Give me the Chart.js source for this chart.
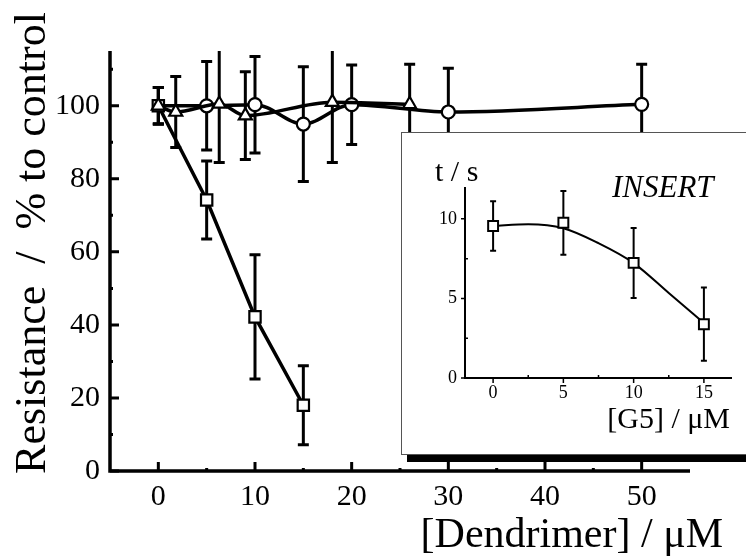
<!DOCTYPE html>
<html>
<head>
<meta charset="utf-8">
<script src="https://cdn.jsdelivr.net/npm/chart.js@4/dist/chart.umd.min.js"></script>
<style>
html, body { margin: 0; padding: 0; background: #fff; overflow: hidden; }
#wrap { position: relative; width: 746px; height: 557px; }
#mainChart { position: absolute; left: 0; top: 0; }
#insetBox {
    position: absolute; left: 401px; top: 132px; width: 360px; height: 323px;
    box-sizing: border-box; border: 1px solid #555; background: #fff;
    box-shadow: 6px 7px 0 #000;
}
#insetChart { position: absolute; left: 402px; top: 133px; }
</style>
</head>
<body>
<div id="wrap">
    <canvas id="mainChart" width="746" height="557"></canvas>
    <div id="insetBox"></div>
    <canvas id="insetChart" width="344" height="321"></canvas>
</div>
<script>
// main plot: resistance vs dendrimer concentration
var squareX = [0, 5, 10, 15];
var squareY = [100, 74.2, 42.2, 18];
var squareErr = [5, 10.7, 17, 10.8];

var circleX = [0, 5, 10, 15, 20, 30, 50];
var circleY = [100, 100, 100.3, 95, 100.3, 98.3, 100.4];
var circleErr = [5, 12.1, 13.2, 15.7, 10.9, 12, 11];

var triangleX = [0, 1.8, 6.3, 9, 18, 26];
var triangleY = [100, 98.3, 100.5, 97.3, 101, 100.4];
var triangleErr = [5, 9.7, 16, 12, 16.5, 11];

var mainXTicks = [0, 10, 20, 30, 40, 50];
var mainYTicks = [0, 20, 40, 60, 80, 100];

// insert: t / s vs [G5]
var g5X = [0, 5, 10, 15];
var g5Y = [9.55, 9.75, 7.23, 3.38];
var g5Err = [1.55, 2.0, 2.2, 2.3];

// fitted curve
var fitX = [0, 2.5, 5, 7.5, 10, 12.5, 15];
var fitY = [9.56, 9.66, 9.41, 8.47, 7.22, 5.34, 3.45];

var insetXTicks = [0, 5, 10, 15];
var insetYTicks = [0, 5, 10];

var serif = "'Liberation Serif', 'Times New Roman', serif";

function pts(xs, ys) {
    return xs.map(function (x, i) { return { x: x, y: ys[i] }; });
}

var errorBars = {
    id: 'errorBars',
    beforeDatasetsDraw: function (chart, args, opts) {
        var ctx = chart.ctx, a = chart.chartArea;
        var xs = chart.scales.x, ys = chart.scales.y;
        ctx.save();
        ctx.beginPath();
        ctx.rect(a.left, a.top, a.right - a.left, a.bottom - a.top);
        ctx.clip();
        ctx.strokeStyle = '#000';
        ctx.lineWidth = opts.width;
        chart.data.datasets.forEach(function (ds) {
            if (!ds.err) return;
            ds.data.forEach(function (p, j) {
                var e = ds.err[j];
                if (!e) return;
                var px = xs.getPixelForValue(p.x);
                var t = ys.getPixelForValue(p.y + e);
                var b = ys.getPixelForValue(p.y - e);
                ctx.beginPath();
                ctx.moveTo(px, t); ctx.lineTo(px, b);
                ctx.moveTo(px - opts.cap, t); ctx.lineTo(px + opts.cap, t);
                ctx.moveTo(px - opts.cap, b); ctx.lineTo(px + opts.cap, b);
                ctx.stroke();
            });
        });
        ctx.restore();
    }
};

// axis lines, tick marks, tick labels and titles
var axes = {
    id: 'axes',
    afterDraw: function (chart, args, o) {
        var ctx = chart.ctx, a = chart.chartArea;
        var xs = chart.scales.x, ys = chart.scales.y;
        ctx.save();
        ctx.strokeStyle = '#000';
        ctx.lineWidth = o.width;
        ctx.beginPath();
        ctx.moveTo(a.left, a.top);
        ctx.lineTo(a.left, a.bottom);
        ctx.lineTo(a.right, a.bottom);
        ctx.stroke();
        ctx.lineWidth = o.tickWidth;
        ctx.beginPath();
        o.xMajor.forEach(function (v) {
            var px = xs.getPixelForValue(v);
            ctx.moveTo(px, a.bottom); ctx.lineTo(px, a.bottom + o.xMajorLen);
        });
        o.xMinor.forEach(function (v) {
            var px = xs.getPixelForValue(v);
            ctx.moveTo(px, a.bottom); ctx.lineTo(px, a.bottom + o.xMinorLen);
        });
        o.yMajor.forEach(function (v) {
            var py = ys.getPixelForValue(v);
            ctx.moveTo(a.left, py); ctx.lineTo(a.left + o.yMajorLen, py);
        });
        o.yMinor.forEach(function (v) {
            var py = ys.getPixelForValue(v);
            ctx.moveTo(a.left, py); ctx.lineTo(a.left + o.yMinorLen, py);
        });
        ctx.stroke();

        ctx.fillStyle = '#000';
        ctx.font = o.labelFont;
        ctx.textAlign = 'center';
        ctx.textBaseline = 'alphabetic';
        o.xMajor.forEach(function (v) {
            ctx.fillText(String(v), xs.getPixelForValue(v), a.bottom + o.xLabelOffset);
        });
        ctx.textAlign = 'right';
        ctx.textBaseline = 'middle';
        o.yMajor.forEach(function (v) {
            ctx.fillText(String(v), a.left - o.yLabelGap, ys.getPixelForValue(v));
        });

        o.texts.forEach(function (t) {
            ctx.save();
            ctx.font = t.font;
            ctx.textAlign = t.align;
            ctx.textBaseline = 'alphabetic';
            ctx.translate(t.x, t.y);
            if (t.rot) ctx.rotate(t.rot);
            ctx.fillText(t.text, 0, 0);
            ctx.restore();
        });
        ctx.restore();
    }
};

var hiddenScale = {
    grid: { display: false, drawTicks: false },
    border: { display: false },
    ticks: { display: false }
};

var mainChart = new Chart(document.getElementById('mainChart').getContext('2d'), {
    type: 'line',
    data: {
        datasets: [
            {
                label: 'triangles',
                data: pts(triangleX, triangleY),
                err: triangleErr,
                borderColor: '#000',
                borderWidth: 3.5,
                cubicInterpolationMode: 'monotone',
                pointStyle: 'triangle',
                pointRadius: 7.5,
                pointBorderWidth: 2.2,
                pointBackgroundColor: '#fff',
                pointBorderColor: '#000'
            },
            {
                label: 'circles',
                data: pts(circleX, circleY),
                err: circleErr,
                borderColor: '#000',
                borderWidth: 3.5,
                cubicInterpolationMode: 'monotone',
                pointStyle: 'circle',
                pointRadius: [0, 6.5, 6.5, 6.5, 6.5, 6.5, 6.5],
                pointBorderWidth: 2.2,
                pointBackgroundColor: '#fff',
                pointBorderColor: '#000'
            },
            {
                label: 'squares',
                data: pts(squareX, squareY),
                err: squareErr,
                borderColor: '#000',
                borderWidth: 3.5,
                tension: 0,
                pointStyle: 'rect',
                pointRadius: 8,
                pointBorderWidth: 2.2,
                pointBackgroundColor: '#fff',
                pointBorderColor: '#000'
            }
        ]
    },
    options: {
        responsive: false,
        animation: false,
        layout: { padding: { left: 110, right: 56, top: 51, bottom: 86 } },
        scales: {
            x: Object.assign({ type: 'linear', min: -5, max: 55,
                afterFit: function (s) { s.height = 0; } }, hiddenScale),
            y: Object.assign({ type: 'linear', min: 0, max: 115,
                afterFit: function (s) { s.width = 0; } }, hiddenScale)
        },
        plugins: {
            legend: { display: false },
            tooltip: { enabled: false },
            errorBars: { width: 3, cap: 5.5 },
            axes: {
                width: 3.5, tickWidth: 3,
                xMajor: mainXTicks, xMinor: [5, 15, 25, 35, 45],
                xMajorLen: -9, xMinorLen: -3,
                yMajor: mainYTicks, yMinor: [10, 30, 50, 70, 90, 110],
                yMajorLen: 9, yMinorLen: 3,
                labelFont: '30px ' + serif,
                xLabelOffset: 34, yLabelGap: 10,
                texts: [
                    { text: 'Resistance  /  % to control', x: 45, y: 243, rot: -Math.PI / 2,
                      align: 'center', font: '44px ' + serif },
                    { text: '[Dendrimer] / \u03BCM', x: 723, y: 547, align: 'right', font: '42px ' + serif }
                ]
            }
        }
    },
    plugins: [errorBars, axes]
});

var insetChart = new Chart(document.getElementById('insetChart').getContext('2d'), {
    type: 'line',
    data: {
        datasets: [
            {
                label: 'G5',
                data: pts(g5X, g5Y),
                err: g5Err,
                showLine: false,
                pointStyle: 'rect',
                pointRadius: 7,
                pointBorderWidth: 2,
                pointBackgroundColor: '#fff',
                pointBorderColor: '#000'
            },
            {
                label: 'fit',
                data: pts(fitX, fitY),
                borderColor: '#000',
                borderWidth: 2,
                cubicInterpolationMode: 'monotone',
                pointRadius: 0
            }
        ]
    },
    options: {
        responsive: false,
        animation: false,
        layout: { padding: { left: 63, right: 14, top: 54, bottom: 76 } },
        scales: {
            x: Object.assign({ type: 'linear', min: -2, max: 17,
                afterFit: function (s) { s.height = 0; } }, hiddenScale),
            y: Object.assign({ type: 'linear', min: 0, max: 12,
                afterFit: function (s) { s.width = 0; } }, hiddenScale)
        },
        plugins: {
            legend: { display: false },
            tooltip: { enabled: false },
            errorBars: { width: 2, cap: 3 },
            axes: {
                width: 2, tickWidth: 1.5,
                xMajor: insetXTicks, xMinor: [2.5, 7.5, 12.5],
                xMajorLen: 5, xMinorLen: -3,
                yMajor: insetYTicks, yMinor: [2.5, 7.5],
                yMajorLen: -4, yMinorLen: 3,
                labelFont: '18px ' + serif,
                xLabelOffset: 20, yLabelGap: 8,
                texts: [
                    { text: 't / s', x: 33, y: 48, align: 'left', font: '30px ' + serif },
                    { text: 'INSERT', x: 210, y: 64, align: 'left', font: 'italic 31px ' + serif },
                    { text: '[G5] / \u03BCM', x: 328, y: 295, align: 'right', font: '30px ' + serif }
                ]
            }
        }
    },
    plugins: [errorBars, axes]
});
</script>
</body>
</html>
